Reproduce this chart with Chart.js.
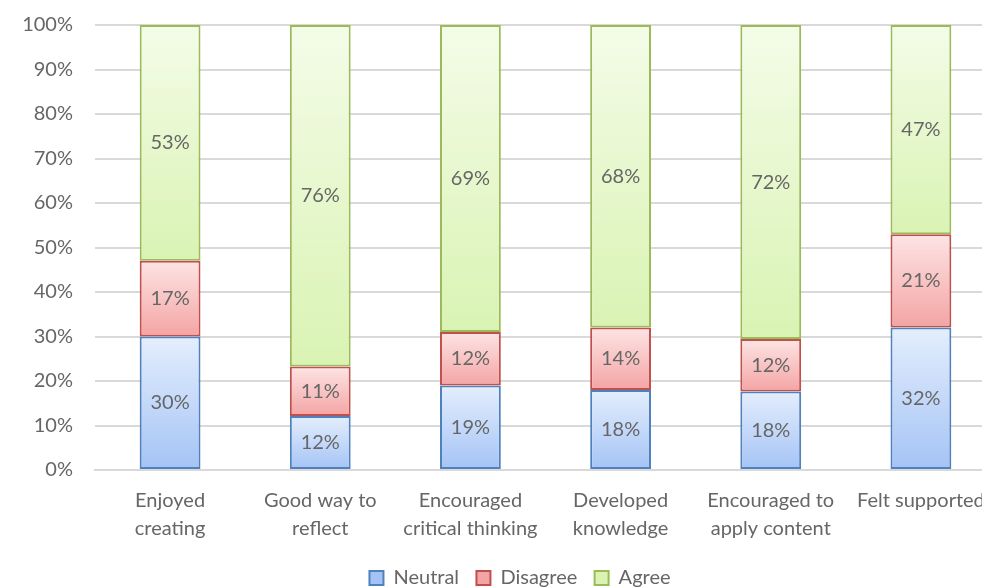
<!DOCTYPE html>
<html>
<head>
<meta charset="utf-8">
<script src="https://cdn.jsdelivr.net/npm/chart.js@4/dist/chart.umd.min.js"></script>
<style>
  html, body { margin: 0; padding: 0; background: #fff; overflow: hidden; }
  #wrap { width: 1040px; height: 587px; position: relative; }
</style>
</head>
<body>
<div id="wrap"><canvas id="chart"></canvas></div>
<script>
const categories = [
  ['Enjoyed', 'creating'],
  ['Good way to', 'reflect'],
  ['Encouraged', 'critical thinking'],
  ['Developed', 'knowledge'],
  ['Encouraged to', 'apply content'],
  ['Felt supported']
];
const neutral = [30, 12, 19, 18, 18, 32];
const disagree = [17, 11, 12, 14, 12, 21];
const agree = [53, 76, 69, 68, 72, 47];
const seriesNames = ['Neutral', 'Disagree', 'Agree'];

const TEXT = '#666666';
const FONT = 'Lato';

// 100% stacked: each bar is scaled to its own total
const totals = neutral.map((v, i) => v + disagree[i] + agree[i]);
const share = arr => arr.map((v, i) => v / totals[i] * 100);
const raw = [neutral, disagree, agree];

function segFill(top, bottom, flat) {
  return ctx => {
    if (ctx.type !== 'data') return flat;
    const chart = ctx.chart;
    const y = chart.scales.y;
    if (!y) return flat;
    let base = 0;
    for (let d = 0; d < ctx.datasetIndex; d++) base += chart.data.datasets[d].data[ctx.dataIndex];
    const end = base + chart.data.datasets[ctx.datasetIndex].data[ctx.dataIndex];
    const y0 = y.getPixelForValue(end), y1 = y.getPixelForValue(base);
    if (!isFinite(y0) || !isFinite(y1) || y0 === y1) return flat;
    const g = chart.ctx.createLinearGradient(0, y0, 0, y1);
    g.addColorStop(0, top);
    g.addColorStop(1, bottom);
    return g;
  };
}

const barLabels = {
  id: 'barLabels',
  afterDatasetsDraw(chart) {
    const ctx = chart.ctx;
    ctx.save();
    ctx.font = '20px ' + FONT;
    ctx.fillStyle = TEXT;
    ctx.textAlign = 'center';
    ctx.textBaseline = 'middle';
    chart.data.datasets.forEach((ds, di) => {
      chart.getDatasetMeta(di).data.forEach((el, i) => {
        ctx.fillText(raw[di][i] + '%', el.x, (el.y + el.base) / 2);
      });
    });
    ctx.restore();
  }
};

new Chart(document.getElementById('chart'), {
  type: 'bar',
  data: {
    labels: categories,
    datasets: [
      {
        label: seriesNames[0],
        data: share(neutral),
        backgroundColor: segFill('#e4eefd', '#a4c3f5', '#b9d1f7'),
        borderColor: '#4f81bd',
        borderWidth: 2,
        borderSkipped: false
      },
      {
        label: seriesNames[1],
        data: share(disagree),
        backgroundColor: segFill('#fde4e4', '#f4a4a4', '#f7baba'),
        borderColor: '#c0504d',
        borderWidth: 2,
        borderSkipped: false
      },
      {
        label: seriesNames[2],
        data: share(agree),
        backgroundColor: segFill('#f4fce8', '#d9f3b3', '#e3f6c6'),
        borderColor: '#9bbb59',
        borderWidth: 2,
        borderSkipped: false
      }
    ]
  },
  options: {
    responsive: true,
    maintainAspectRatio: false,
    animation: false,
    barPercentage: 0.81,
    categoryPercentage: 0.5,
    layout: { padding: { top: 0, right: 0, left: 0, bottom: -11 } },
    plugins: {
      tooltip: { enabled: false },
      legend: {
        position: 'bottom',
        labels: {
          color: TEXT,
          font: { family: FONT, size: 20 },
          boxWidth: 14,
          boxHeight: 14,
          padding: 2,
          // extra room between legend entries
          generateLabels: c => {
            const items = Chart.defaults.plugins.legend.labels.generateLabels(c);
            items.forEach((it, i) => { if (i < items.length - 1) it.text += '   '; });
            return items;
          }
        }
      }
    },
    scales: {
      x: {
        stacked: true,
        grid: { display: false },
        border: { color: '#d9d9d9', width: 2 },
        ticks: {
          color: TEXT,
          font: { family: FONT, size: 20, lineHeight: 1.4 },
          maxRotation: 0,
          autoSkip: false,
          padding: 9
        },
        afterFit: s => { s.height = 96; }
      },
      y: {
        stacked: true,
        min: 0,
        max: 100,
        grid: { color: '#d9d9d9', lineWidth: 2, drawTicks: false },
        border: { display: false },
        ticks: {
          stepSize: 10,
          color: TEXT,
          font: { family: FONT, size: 20 },
          padding: 22,
          callback: v => v + '%'
        },
        afterFit: s => { s.width = 95; s.paddingTop = 25; }
      },
      // empty right-hand strip: the plot runs past the window edge
      yRight: {
        position: 'right',
        grid: { display: false },
        border: { display: false },
        ticks: { display: false },
        afterFit: s => { s.width = 44; }
      }
    }
  },
  plugins: [barLabels]
});
</script>
</body>
</html>
